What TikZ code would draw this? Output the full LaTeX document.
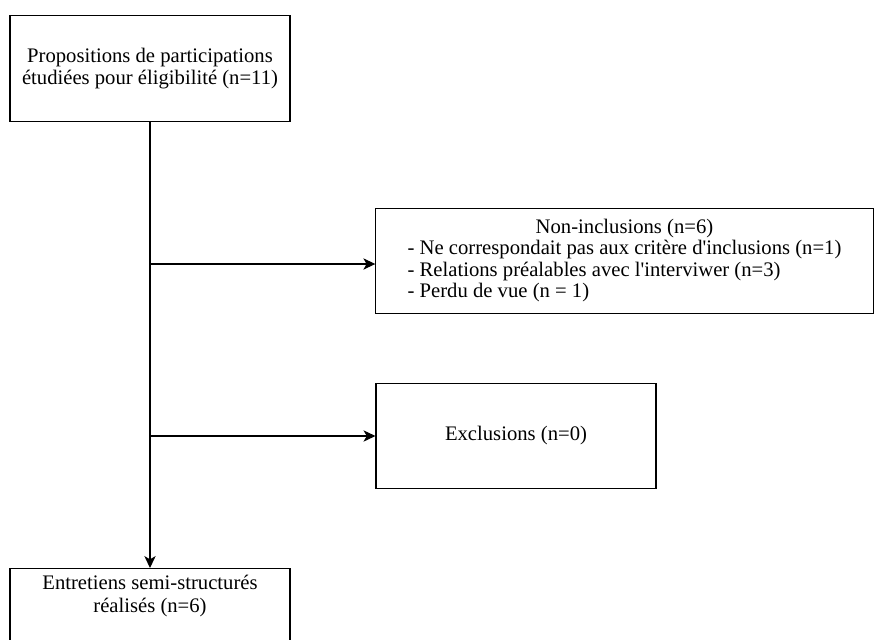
\documentclass[tikz,border=0pt]{standalone}
\usepackage{fontspec}
\setmainfont{Liberation Serif}
\usetikzlibrary{arrows.meta}

\tikzset{
  boite/.style={draw, thick, minimum width=210pt, minimum height=79pt, align=center,
    font=\fontsize{15.5}{17}\selectfont, inner sep=0pt},
  fleche/.style={thick, -{Stealth[length=9pt,width=8.5pt,inset=2.5pt]}},
}

\begin{document}
\begin{tikzpicture}[x=0.75pt,y=-0.75pt]
	\useasboundingbox (0,0) rectangle (874,639);
	\clip (0,0) rectangle (874,639);
	% boites
	\node[boite] (prop) at (150,68.5) {Propositions de participations\\ étudiées pour éligibilité (n=11)};
	\node[boite, minimum width=373pt] (noninc) at (624.5,261) {\begin{tabular}{@{}l@{}}
		\multicolumn{1}{@{}c@{}}{Non-inclusions (n=6)}\\[-1pt]
		- Ne correspondait pas aux critère d\textquotesingle inclusions (n=1)\\[-1pt]
		- Relations préalables avec l\textquotesingle interviwer (n=3)\\[-1pt]
		- Perdu de vue (n = 1)
	\end{tabular}};
	\node[boite] (excl) at (516,436) {Exclusions (n=0)};
	\node[boite, anchor=north, text height=33pt, text depth=55pt] (entr) at (150,568) {Entretiens semi-structurés\\ réalisés (n=6)};
	% fleches
	\draw[fleche] (prop.south) -- (entr.north);
	\coordinate (b1) at (150,264);
	\coordinate (b2) at (150,436);
	\draw[fleche] (b1) -- (b1 -| noninc.west);
	\draw[fleche] (b2) -- (excl.west);
\end{tikzpicture}
\end{document}
